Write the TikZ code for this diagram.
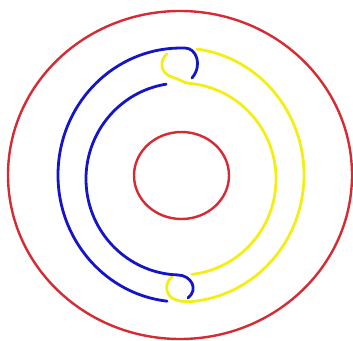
\documentclass[tikz,border=0pt]{standalone}
\usepackage{tikz}
\definecolor{ringred}{HTML}{D62B33}
\definecolor{strandblue}{HTML}{1414C8}
\definecolor{strandyellow}{HTML}{F4EE14}

\begin{document}
\begin{tikzpicture}[
  x=1pt, y=1pt,
  ring/.style={draw=ringred, line width=2.4pt},
  bluestrand/.style={draw=strandblue, line width=2.8pt, line cap=round},
  yellowstrand/.style={draw=strandyellow, line width=2.8pt, line cap=round}
]
\useasboundingbox (0,0) rectangle (353,340);
\coordinate (ringc) at (180,165);
\coordinate (holec) at (181.5,164.5);
\coordinate (outc) at (181,165);
\coordinate (inc) at (181,161);

\draw[ring] (ringc) ellipse[x radius=172, y radius=164];
\draw[ring] (holec) ellipse[x radius=47.5, y radius=43.5];

\draw[bluestrand] (outc) ++(263.5:123 and 127)
  arc[start angle=263.5, end angle=88, x radius=123, y radius=127]
  .. controls (196,292) and (203,275) .. (192,262);
\draw[bluestrand] (inc) ++(99:95 and 96)
  arc[start angle=99, end angle=268, x radius=95, y radius=96]
  .. controls (191,64.8) and (199,51) .. (188,42);

\draw[yellowstrand] (outc) ++(82.5:123 and 127)
  arc[start angle=82.5, end angle=-85, x radius=123, y radius=127]
  .. controls (183,38) and (177,39) .. (172,42)
  .. controls (166,46) and (164,57) .. (172,63);
\draw[yellowstrand] (167,286) .. controls (160,281) and (159,267) .. (172,263)
  .. controls (179,261) and (184,257) .. (189.3,256.6)
  arc[start angle=85, end angle=-83.4, x radius=95, y radius=96];
\end{tikzpicture}
\end{document}
